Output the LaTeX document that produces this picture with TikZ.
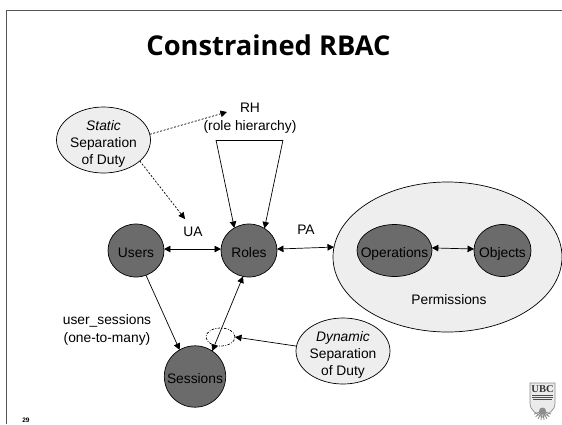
\documentclass[tikz,border=0pt]{standalone}
\usepackage{fontspec}
\setmainfont{Liberation Sans}
\newfontfamily\titlefont{Open Sans}
\newfontfamily\crestfont{Liberation Serif}
\usetikzlibrary{shapes.geometric,arrows.meta}
\definecolor{darkfill}{HTML}{6B6B6B}
\definecolor{lightfill}{HTML}{EEEEEE}
\definecolor{framegrey}{HTML}{555555}
\newcommand{\ctext}[1]{\smash{\makebox[0pt]{\raisebox{\dimexpr-.5\height-1.6pt\relax}{\begin{tabular}[b]{@{}c@{}}#1\end{tabular}}}}}
\tikzset{
  bubble/.style={shape=ellipse,draw=black,line width=.7pt,inner sep=0pt,outer sep=0pt,
    font=\fontsize{13.8}{16.8}\selectfont},
  darknode/.style={bubble,fill=darkfill},
  lightnode/.style={bubble,fill=lightfill},
  lbl/.style={inner sep=0pt,outer sep=0pt,align=center,font=\fontsize{13.8}{17.5}\selectfont},
  link/.style={draw=black,line width=.7pt},
  both/.style={link,{Triangle[length=6.5pt,width=6.5pt]}-{Triangle[length=6.5pt,width=6.5pt]}},
  single/.style={link,-{Triangle[length=6.5pt,width=6.5pt]}},
  dotlink/.style={single,dash pattern=on 2pt off 1.6pt}
}
\begin{document}
\begin{tikzpicture}[x=1pt,y=-1pt]
\useasboundingbox (0,0) rectangle (562,424);
\fill[white] (0,0) rectangle (562,424);
% slide frame
\coordinate (frameA) at (6,424);
\coordinate (frameB) at (6,10);
\coordinate (frameC) at (562,10);
\draw[framegrey,line width=1pt] (frameA) -- (frameB) -- (frameC);
\node[inner sep=0pt,font=\titlefont\bfseries\fontsize{27.3}{30}\selectfont] (title) at (268.5,45) {Constrained RBAC};
% permissions
\node[lightnode,minimum width=229pt,minimum height=150pt] (perm) at (447.5,257) {};
\node[lbl] (permtext) at (449,300) {Permissions};
\node[darknode,minimum width=75pt,minimum height=52pt] (ops) at (394.5,250.5) {\ctext{Operations}};
\node[darknode,minimum width=57pt,minimum height=52pt] (objs) at (502.5,250.5) {\ctext{Objects}};
% core
\node[darknode,minimum width=56pt,minimum height=53pt] (users) at (136,250.5) {\ctext{Users}};
\node[darknode,minimum width=56pt,minimum height=53pt] (roles) at (249,250.5) {\ctext{Roles}};
\node[darknode,minimum width=61.4pt,minimum height=61.4pt] (sessions) at (195,376.5) {\ctext{Sessions}};
% constraint bubbles
\node[lightnode,minimum width=94pt,minimum height=66pt] (static) at (103.5,140) {\ctext{\textit{Static}\\Separation\\of Duty}};
\node[lightnode,minimum width=94pt,minimum height=66pt] (dynamic) at (343,351) {\ctext{\textit{Dynamic}\\Separation\\of Duty}};
\node[shape=ellipse,draw=black,line width=.7pt,dash pattern=on 2.5pt off 1.5pt on .8pt off 1.5pt,inner sep=0pt,outer sep=0pt,minimum width=29pt,minimum height=18pt] (dsd) at (220.5,337) {};
% labels
\node[lbl] (rhtext) at (250,118) {RH\\(role hierarchy)};
\node[lbl] (uatext) at (193,232) {UA};
\node[lbl] (patext) at (306,230) {PA};
\node[lbl] (ustext) at (107,330) {user\_sessions\\(one-to-many)};
\node[inner sep=0pt,font=\bfseries\fontsize{6.5}{8}\selectfont] (pagenum) at (26,420) {29};
% free ends
\coordinate (rhA) at (216,140);
\coordinate (rhB) at (283,140);
\coordinate (rhEnd) at (227,112);
\coordinate (uaEnd) at (185,219);
% connectors
\draw[both] (users.3) -- (roles.177);
\draw[both] (roles.3) -- (perm.175.8);
\draw[both] (ops.4) -- (objs.177);
\draw[single] (users.-68.6) -- (sessions.120);
\draw[both] (sessions.56) -- (roles.-103);
\draw[single] (dynamic.174) -- (dsd.0);
\draw[link] (rhA) -- (rhB);
\draw[single] (rhA) -- (roles.123);
\draw[single] (rhB) -- (roles.55);
\draw[dotlink] (static.7.4) -- (rhEnd);
\draw[dotlink] (static.-30) -- (uaEnd);
% UBC crest
\draw[draw=black!45,fill=black!8,line width=.7pt] (530,383) -- (555,383) -- (555,403) .. controls (555,411) and (548,414) .. (542.5,417) .. controls (537,414) and (530,411) .. (530,403) -- cycle;
\node[inner sep=0pt,font=\crestfont\bfseries\fontsize{10.5}{10.5}\selectfont,text=black!80] (crest) at (542.5,389) {UBC};
\fill[black!70] (532,394.5) rectangle (553,395.5);
\fill[black!70] (532,396.8) rectangle (553,397.8);
\fill[black!70] (533,399) rectangle (552,400);
\foreach \a in {200,220,...,340} \draw[black!45,line width=.9pt] (542.5,411) -- ++(\a:9pt);
\fill[black!45] (542.5,411) circle[radius=3.5pt];
\end{tikzpicture}
\end{document}
